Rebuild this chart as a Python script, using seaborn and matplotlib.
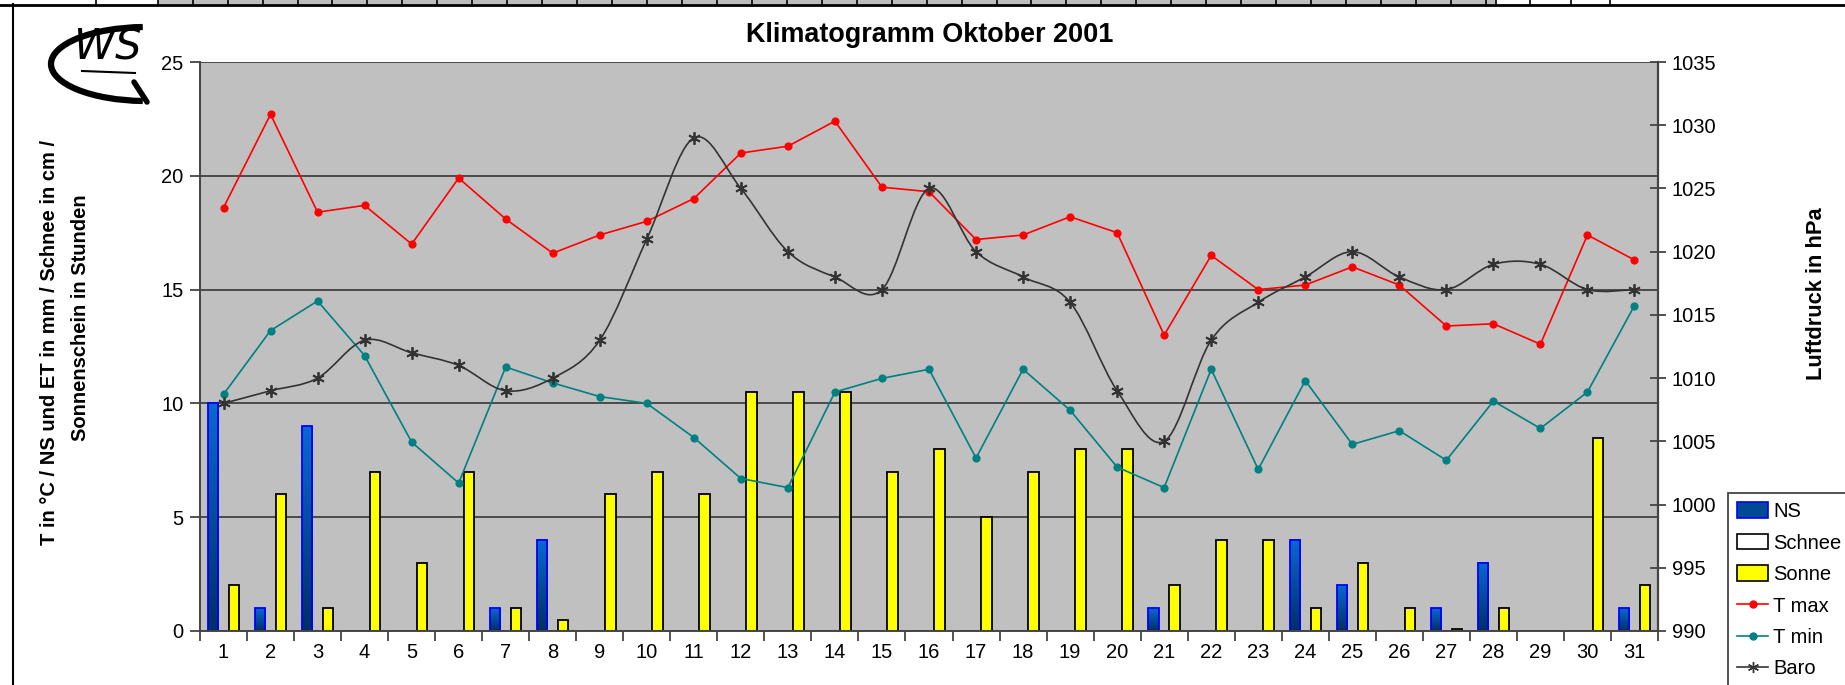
import numpy as np
import pandas as pd
import matplotlib
matplotlib.use('Agg')
import matplotlib.pyplot as plt
import seaborn as sns
from matplotlib.path import Path
from matplotlib.patches import PathPatch, Rectangle, Arc, Patch
from matplotlib.lines import Line2D
from matplotlib.colors import LinearSegmentedColormap

# --- data (Oktober 2001) ---
tage = list(range(1, 32))
ns = [10, 1, 9, 0, 0, 0, 1, 4, 0, 0, 0, 0, 0, 0, 0, 0, 0, 0, 0, 0, 1, 0, 0, 4, 2, 0, 1, 3, 0, 0, 1]
schnee = [0] * 31
sonne = [2, 6, 1, 7, 3, 7, 1, 0.5, 6, 7, 6, 10.5, 10.5, 10.5, 7, 8, 5, 7, 8, 8,
         2, 4, 4, 1, 3, 1, 0.1, 1, 0, 8.5, 2]
tmax = [18.6, 22.7, 18.4, 18.7, 17.0, 19.9, 18.1, 16.6, 17.4, 18.0, 19.0, 21.0, 21.3, 22.4, 19.5, 19.3,
        17.2, 17.4, 18.2, 17.5, 13.0, 16.5, 15.0, 15.2, 16.0, 15.2, 13.4, 13.5, 12.6, 17.4, 16.3]
tmin = [10.4, 13.2, 14.5, 12.1, 8.3, 6.5, 11.6, 10.9, 10.3, 10.0, 8.5, 6.7, 6.3, 10.5, 11.1, 11.5,
        7.6, 11.5, 9.7, 7.2, 6.3, 11.5, 7.1, 11.0, 8.2, 8.8, 7.5, 10.1, 8.9, 10.5, 14.3]
baro = [1008, 1009, 1010, 1013, 1012, 1011, 1009, 1010, 1013, 1021, 1029, 1025, 1020, 1018, 1017, 1025,
        1020, 1018, 1016, 1009, 1005, 1013, 1016, 1018, 1020, 1018, 1017, 1019, 1019, 1017, 1017]

df = pd.DataFrame({'Tag': tage, 'NS': ns, 'Schnee': schnee, 'Sonne': sonne,
                   'T max': tmax, 'T min': tmin, 'Baro': baro})
df['pos'] = df['Tag'] - 1
bars = df.melt(id_vars='Tag', value_vars=['NS', 'Schnee', 'Sonne'], var_name='Reihe', value_name='Wert')

plt.rcParams['font.family'] = ['Liberation Sans', 'DejaVu Sans']

W, H = 1845, 685
fig = plt.figure(figsize=(W / 100, H / 100), dpi=100)
fig.patch.set_facecolor('white')

# axes in pixel box: x 200..1658, y 62..631
ax = fig.add_axes([200 / W, (H - 631) / H, 1458 / W, 569 / H])
ax.set_facecolor('#C0C0C0')

sns.barplot(data=bars, x='Tag', y='Wert', hue='Reihe', hue_order=['NS', 'Schnee', 'Sonne'],
            palette={'NS': '#00509e', 'Schnee': 'white', 'Sonne': '#FFFF00'},
            width=0.67, gap=0, saturation=1, linewidth=1.3, edgecolor='black',
            legend=False, ax=ax)

ns_cmap = LinearSegmentedColormap.from_list('ns', ['#002f63', '#0a68d0'])
grad = np.linspace(0, 1, 128).reshape(-1, 1)
for cont, edge in zip(ax.containers, ['#0000FF', 'black', 'black']):
    for b in cont:
        if b.get_height() == 0:
            b.set_visible(False)
            continue
        b.set_edgecolor(edge)
    if edge == '#0000FF':
        for b in cont:
            if not b.get_visible():
                continue
            x0, w, h = b.get_x(), b.get_width(), b.get_height()
            ax.imshow(grad, origin='lower', extent=[x0, x0 + w, 0, h], cmap=ns_cmap,
                      aspect='auto', zorder=1.1, clip_path=b, interpolation='bilinear')
            b.set_facecolor('none')
            b.set_zorder(1.2)

sns.pointplot(data=df, x='Tag', y='T max', color='#FF0000', markers='o', markersize=5,
              linewidth=1.2, errorbar=None, ax=ax)
sns.pointplot(data=df, x='Tag', y='T min', color='#008080', markers='o', markersize=5,
              linewidth=1.2, errorbar=None, ax=ax)

ax.set_xlim(-0.5, 30.5)
ax.set_ylim(0, 25)
ax.set_yticks(range(0, 26, 5))
ax.set_xticks(range(31))
ax.set_xticklabels([str(t) for t in tage])
ax.set_xticks(np.arange(-0.5, 31, 1), minor=True)
ax.tick_params(axis='x', which='major', length=0, pad=9, labelsize=14.5)
ax.tick_params(axis='x', which='minor', length=7, width=1.3, color='#444444', direction='out')
ax.tick_params(axis='y', length=7, width=1.3, color='#444444', direction='out', labelsize=14.5, pad=5)
ax.set_xlabel('')
ax.set_ylabel('')
ax.yaxis.grid(True, color='#4a4a4a', linewidth=1.4)
ax.xaxis.grid(False)
ax.set_axisbelow(True)
for s in ['top', 'right']:
    ax.spines[s].set_visible(False)
for s in ['left', 'bottom']:
    ax.spines[s].set_color('#444444')
    ax.spines[s].set_linewidth(1.4)

# pressure on the right axis
ax2 = ax.twinx()
ax2.set_facecolor('none')
sns.lineplot(data=df, x='pos', y='Baro', color='#333333', marker=(6, 2, 0), markersize=9,
             markeredgewidth=1.3, markeredgecolor='#333333', linestyle='none', ax=ax2)
xs = df['pos'].to_numpy(float)
ys = df['Baro'].to_numpy(float)
verts = [(xs[0], ys[0])]
codes = [Path.MOVETO]
n = len(xs)
for i in range(n - 1):
    p0 = np.array([xs[max(i - 1, 0)], ys[max(i - 1, 0)]])
    p1 = np.array([xs[i], ys[i]])
    p2 = np.array([xs[i + 1], ys[i + 1]])
    p3 = np.array([xs[min(i + 2, n - 1)], ys[min(i + 2, n - 1)]])
    c1 = p1 + (p2 - p0) / 6
    c2 = p2 - (p3 - p1) / 6
    verts += [tuple(c1), tuple(c2), tuple(p2)]
    codes += [Path.CURVE4] * 3
ax2.add_patch(PathPatch(Path(verts, codes), fill=False, edgecolor='#333333', linewidth=1.2))
ax2.set_ylim(990, 1035)
ax2.set_yticks(range(990, 1036, 5))
ax2.set_xlim(-0.5, 30.5)
ax2.set_xlabel('')
ax2.set_ylabel('')
ax2.tick_params(axis='y', length=12, width=1.3, color='#444444', direction='inout', labelsize=14.5, pad=4)
for s in ['top', 'left', 'bottom']:
    ax2.spines[s].set_visible(False)
ax2.spines['right'].set_color('#444444')
ax2.spines['right'].set_linewidth(1.6)
ax.set_xlim(-0.5, 30.5)

# texts, sized to the extents measured on the reference (pixels)
renderer = fig.canvas.get_renderer()


def fit(txt, target, vertical):
    for _ in range(3):
        bb = txt.get_window_extent(renderer)
        cur = bb.height if vertical else bb.width
        txt.set_fontsize(txt.get_fontsize() * target / cur)


title = fig.text(930 / W, 1 - 35 / H, 'Klimatogramm Oktober 2001', ha='center', va='center',
                 fontsize=18, fontweight='bold')
fit(title, 368, False)
lab2 = fig.text(80 / W, 1 - 318 / H, 'Sonnenschein in Stunden', rotation=90, ha='center',
                va='center', fontsize=14, fontweight='bold')
fit(lab2, 247, True)
lab1 = fig.text(50 / W, 1 - 545 / H, 'T in °C / NS und ET in mm / Schnee in cm /', rotation=90,
                ha='center', va='bottom', fontsize=lab2.get_fontsize(), fontweight='bold')
rlab = fig.text(1817 / W, 1 - 294 / H, 'Luftdruck in hPa', rotation=90, ha='center', va='center',
                fontsize=15, fontweight='bold')
fit(rlab, 172, True)

# legend
handles = [Patch(facecolor='#004a94', edgecolor='#0000FF', linewidth=1.2),
           Patch(facecolor='white', edgecolor='black', linewidth=1.2),
           Patch(facecolor='#FFFF00', edgecolor='black', linewidth=1.2),
           Line2D([], [], color='#FF0000', marker='o', markersize=5, linewidth=1.2),
           Line2D([], [], color='#008080', marker='o', markersize=5, linewidth=1.2),
           Line2D([], [], color='#333333', marker=(6, 2, 0), markersize=8, linewidth=1.2)]
leg = fig.legend(handles, ['NS', 'Schnee', 'Sonne', 'T max', 'T min', 'Baro'],
                 loc='upper left', bbox_to_anchor=(1728 / W, 1 - 493 / H), fontsize=14.5,
                 frameon=True, fancybox=False, edgecolor='#444444', framealpha=1,
                 handlelength=1.55, handleheight=0.8, handletextpad=0.25, labelspacing=0.62,
                 borderpad=0.45, borderaxespad=0)
leg.get_frame().set_linewidth(1.3)

# page decoration: spreadsheet row on top and frame line on the left
bg = fig.add_axes([0, 0, 1, 1], zorder=-1)
bg.set_xlim(0, W)
bg.set_ylim(H, 0)
bg.axis('off')
bg.add_patch(Rectangle((158, 0), 1338, 4, facecolor='#BDBDBD', edgecolor='none'))
for xc in [96, 158] + list(np.arange(192.7, 1496, 34.95)) + [1496, 1530, 1571, 1610]:
    bg.plot([xc, xc], [0, 4], color='black', linewidth=1.2)
bg.plot([0, W], [4.5, 4.5], color='black', linewidth=2)
bg.plot([12.7, 12.7], [4, H], color='black', linewidth=1.5)

# WS logo
lg = fig.add_axes([20 / W, 1 - 106 / H, 135 / W, 96 / H], zorder=10)
lg.set_xlim(20, 155)
lg.set_ylim(106, 10)
lg.set_facecolor('white')
lg.axis('off')
lg.patch.set_visible(True)
lg.add_patch(Arc((146, 64), 190, 74, theta1=95, theta2=265, color='black', linewidth=4.5))
lg.plot([134, 147], [82, 102], color='black', linewidth=4, solid_capstyle='round')
lg.text(108, 48, 'WS', fontsize=30, fontstyle='italic', ha='center', va='center',
        family='DejaVu Sans')
lg.plot([82, 135], [71, 73], color='black', linewidth=1.5)

fig.savefig('out.png', dpi=100)
